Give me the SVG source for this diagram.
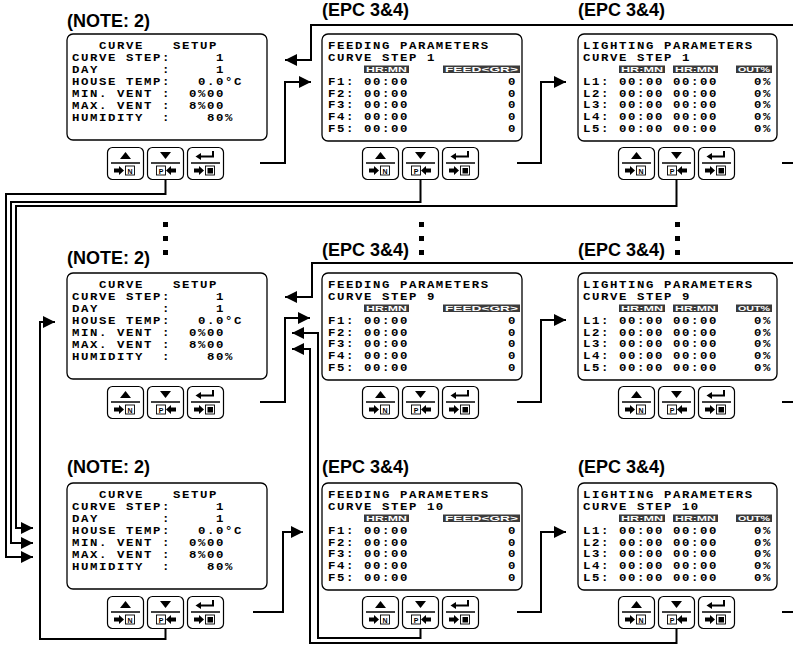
<svg xmlns="http://www.w3.org/2000/svg" width="793" height="645" viewBox="0 0 793 645">
<style>
.box{fill:#fff;stroke:#000;stroke-width:1.3}
.lbl{font-family:"Liberation Sans",Arial,sans-serif;font-weight:bold;font-size:18px;fill:#000}
.m{font-family:"Liberation Mono","Courier New",monospace;font-weight:bold;font-size:10.3px;letter-spacing:1.32px;fill:#000}
.hd{fill:#3a3a3a}
.ht{font-family:"Liberation Sans",Arial,sans-serif;font-weight:bold;font-size:8px;fill:#fff;text-anchor:middle}
.c{fill:none;stroke:#000;stroke-width:2}
.a{marker-end:url(#ah)}
.bf{fill:#fff;stroke:#000;stroke-width:1.2}
.bd{stroke:#000;stroke-width:1.5}
.bx{fill:#fff;stroke:#000;stroke-width:0.9}
.bt{font-family:"Liberation Sans",Arial,sans-serif;font-weight:bold;font-size:7px;text-anchor:middle;fill:#000}
.dot{fill:#000}
</style>
<defs>
<marker id="ah" markerUnits="userSpaceOnUse" markerWidth="12" markerHeight="12" refX="12" refY="6" orient="auto"><path d="M0,0 L12,6 L0,12 Z" fill="#000"/></marker>
<g id="b1">
<rect class="bf" x="0.5" y="0.5" width="36" height="32" rx="5"/>
<line class="bd" x1="4" y1="16" x2="33" y2="16"/>
<path d="M13,12 L18.5,5 L24,12 Z"/>
<path d="M7,21.5 H12 V19 L17,23.5 L12,28 V25.5 H7 Z"/>
<rect class="bx" x="18.5" y="19" width="9" height="9"/>
<text class="bt" x="23" y="26.5">N</text>
</g>
<g id="b2">
<rect class="bf" x="0.5" y="0.5" width="36" height="32" rx="5"/>
<line class="bd" x1="4" y1="16" x2="33" y2="16"/>
<path d="M13,5 L24,5 L18.5,12 Z"/>
<rect class="bx" x="9.5" y="19" width="9" height="9"/>
<text class="bt" x="14" y="26.5">P</text>
<path d="M29,21.5 H24 V19 L19,23.5 L24,28 V25.5 H29 Z"/>
</g>
<g id="b3">
<rect class="bf" x="0.5" y="0.5" width="36" height="32" rx="5"/>
<line class="bd" x1="4" y1="16" x2="33" y2="16"/>
<path d="M26,4 V9.5 H13" fill="none" stroke="#000" stroke-width="2"/>
<path d="M8.5,9.5 L14,6 L14,13 Z"/>
<path d="M7,21.5 H12 V19 L17,23.5 L12,28 V25.5 H7 Z"/>
<rect class="bx" x="18.5" y="19" width="9" height="9"/>
<rect x="20.5" y="21" width="5.5" height="5.5" fill="#000"/>
</g>
</defs>
<rect width="793" height="645" fill="#fff"/>

<g id="connectors">
<path class="c a" d="M260,163 H285 V82 H311"/>
<path class="c a" d="M793,25 H311 V60 H285"/>
<path class="c a" d="M517,163 H541 V82 H566"/>
<path class="c" d="M782,163 H793"/>
<path class="c a" d="M165.5,180 V194 H6 V557 H33"/>
<path class="c a" d="M420.5,180 V202 H11 V543 H33"/>
<path class="c a" d="M676.5,180 V206 H16 V528 H33"/>
<path class="c a" d="M260,402 H285 V318 H310"/>
<path class="c a" d="M793,263 H312 V297 H285"/>
<path class="c a" d="M517,402 H541 V320 H566"/>
<path class="c" d="M782,402 H793"/>
<path class="c a" d="M165.5,629 V639 H40 V322 H55"/>
<path class="c a" d="M420.5,629 V638 H318 V333 H292"/>
<path class="c a" d="M676.5,629 V643 H310 V349 H292"/>
<path class="c a" d="M253,612 H283 V532 H303"/>
<path class="c a" d="M517,612 H541 V532 H566"/>
<path class="c" d="M782,612 H793"/>
</g>

<g id="ellipses">
<rect class="dot" x="163" y="222" width="5" height="5"/><rect class="dot" x="163" y="236" width="5" height="5"/><rect class="dot" x="163" y="250" width="5" height="5"/>
<rect class="dot" x="419" y="222" width="5" height="5"/><rect class="dot" x="419" y="236" width="5" height="5"/><rect class="dot" x="419" y="250" width="5" height="5"/>
<rect class="dot" x="675" y="222" width="5" height="5"/><rect class="dot" x="675" y="236" width="5" height="5"/><rect class="dot" x="675" y="250" width="5" height="5"/>
</g>

<!-- Row 1 -->
<g id="setup1" transform="translate(67,34)">
<text class="lbl" x="0" y="-7.5">(NOTE: 2)</text>
<rect class="box" x="0" y="0" width="200" height="106" rx="6"/>
<g transform="scale(1.2,1)">
<text class="m" y="15"><tspan x="26.67">CURVE</tspan><tspan x="88.33">SETUP</tspan></text>
<text class="m" y="27"><tspan x="4.17">CURVE STEP:</tspan><tspan x="124.17">1</tspan></text>
<text class="m" y="39"><tspan x="4.17">DAY</tspan><tspan x="79.17">:</tspan><tspan x="124.17">1</tspan></text>
<text class="m" y="51"><tspan x="4.17">HOUSE TEMP:</tspan><tspan x="109.17">0.0°C</tspan></text>
<text class="m" y="63"><tspan x="4.17">MIN. VENT</tspan><tspan x="79.17">:</tspan><tspan x="101.67">0%00</tspan></text>
<text class="m" y="75"><tspan x="4.17">MAX. VENT</tspan><tspan x="79.17">:</tspan><tspan x="101.67">8%00</tspan></text>
<text class="m" y="87"><tspan x="4.17">HUMIDITY</tspan><tspan x="79.17">:</tspan><tspan x="116.67">80%</tspan></text>
</g>
<use href="#b1" x="40" y="113"/><use href="#b2" x="80" y="113"/><use href="#b3" x="120" y="113"/>
</g>

<g id="feed1" transform="translate(322,34)">
<text class="lbl" x="0" y="-18">(EPC 3&amp;4)</text>
<rect class="box" x="0" y="0" width="200" height="107" rx="6"/>
<rect class="hd" x="42" y="31.5" width="45" height="7.5"/><text class="ht" x="64.5" y="38" textLength="41" lengthAdjust="spacingAndGlyphs">HR:MN</text>
<rect class="hd" x="121" y="31.5" width="77" height="7.5"/><text class="ht" x="159.5" y="38" textLength="73" lengthAdjust="spacingAndGlyphs">FEED&lt;GR&gt;</text>
<g transform="scale(1.2,1)">
<text class="m" x="5" y="15.5">FEEDING PARAMETERS</text>
<text class="m" x="5" y="27.5">CURVE STEP 1</text>
<text class="m" y="51"><tspan x="5">F1:</tspan><tspan x="35">00:00</tspan><tspan x="155">0</tspan></text>
<text class="m" y="62.7"><tspan x="5">F2:</tspan><tspan x="35">00:00</tspan><tspan x="155">0</tspan></text>
<text class="m" y="74.4"><tspan x="5">F3:</tspan><tspan x="35">00:00</tspan><tspan x="155">0</tspan></text>
<text class="m" y="86.1"><tspan x="5">F4:</tspan><tspan x="35">00:00</tspan><tspan x="155">0</tspan></text>
<text class="m" y="97.8"><tspan x="5">F5:</tspan><tspan x="35">00:00</tspan><tspan x="155">0</tspan></text>
</g>
<use href="#b1" x="40" y="113"/><use href="#b2" x="80" y="113"/><use href="#b3" x="120" y="113"/>
</g>

<g id="light1" transform="translate(578,34)">
<text class="lbl" x="0" y="-18">(EPC 3&amp;4)</text>
<rect class="box" x="0" y="0" width="199" height="107" rx="6"/>
<rect class="hd" x="41" y="31.5" width="46" height="7.5"/><text class="ht" x="64" y="38" textLength="42" lengthAdjust="spacingAndGlyphs">HR:MN</text>
<rect class="hd" x="95" y="31.5" width="45" height="7.5"/><text class="ht" x="117.5" y="38" textLength="41" lengthAdjust="spacingAndGlyphs">HR:MN</text>
<rect class="hd" x="158" y="31.5" width="36" height="7.5"/><text class="ht" x="176" y="38" textLength="32" lengthAdjust="spacingAndGlyphs">OUT%</text>
<g transform="scale(1.2,1)">
<text class="m" x="4.17" y="15.5">LIGHTING PARAMETERS</text>
<text class="m" x="4.17" y="27.5">CURVE STEP 1</text>
<text class="m" y="51"><tspan x="4.17">L1:</tspan><tspan x="34.17">00:00</tspan><tspan x="79.17">00:00</tspan><tspan x="146.67">0%</tspan></text>
<text class="m" y="62.7"><tspan x="4.17">L2:</tspan><tspan x="34.17">00:00</tspan><tspan x="79.17">00:00</tspan><tspan x="146.67">0%</tspan></text>
<text class="m" y="74.4"><tspan x="4.17">L3:</tspan><tspan x="34.17">00:00</tspan><tspan x="79.17">00:00</tspan><tspan x="146.67">0%</tspan></text>
<text class="m" y="86.1"><tspan x="4.17">L4:</tspan><tspan x="34.17">00:00</tspan><tspan x="79.17">00:00</tspan><tspan x="146.67">0%</tspan></text>
<text class="m" y="97.8"><tspan x="4.17">L5:</tspan><tspan x="34.17">00:00</tspan><tspan x="79.17">00:00</tspan><tspan x="146.67">0%</tspan></text>
</g>
<use href="#b1" x="40" y="113"/><use href="#b2" x="80" y="113"/><use href="#b3" x="120" y="113"/>
</g>

<!-- Row 2 -->
<g id="setup2" transform="translate(67,273)">
<text class="lbl" x="0" y="-9.5">(NOTE: 2)</text>
<rect class="box" x="0" y="0" width="200" height="106" rx="6"/>
<g transform="scale(1.2,1)">
<text class="m" y="15"><tspan x="26.67">CURVE</tspan><tspan x="88.33">SETUP</tspan></text>
<text class="m" y="27"><tspan x="4.17">CURVE STEP:</tspan><tspan x="124.17">1</tspan></text>
<text class="m" y="39"><tspan x="4.17">DAY</tspan><tspan x="79.17">:</tspan><tspan x="124.17">1</tspan></text>
<text class="m" y="51"><tspan x="4.17">HOUSE TEMP:</tspan><tspan x="109.17">0.0°C</tspan></text>
<text class="m" y="63"><tspan x="4.17">MIN. VENT</tspan><tspan x="79.17">:</tspan><tspan x="101.67">0%00</tspan></text>
<text class="m" y="75"><tspan x="4.17">MAX. VENT</tspan><tspan x="79.17">:</tspan><tspan x="101.67">8%00</tspan></text>
<text class="m" y="87"><tspan x="4.17">HUMIDITY</tspan><tspan x="79.17">:</tspan><tspan x="116.67">80%</tspan></text>
</g>
<use href="#b1" x="40" y="113"/><use href="#b2" x="80" y="113"/><use href="#b3" x="120" y="113"/>
</g>

<g id="feed9" transform="translate(322,273)">
<text class="lbl" x="0" y="-17">(EPC 3&amp;4)</text>
<rect class="box" x="0" y="0" width="200" height="107" rx="6"/>
<rect class="hd" x="42" y="31.5" width="45" height="7.5"/><text class="ht" x="64.5" y="38" textLength="41" lengthAdjust="spacingAndGlyphs">HR:MN</text>
<rect class="hd" x="121" y="31.5" width="77" height="7.5"/><text class="ht" x="159.5" y="38" textLength="73" lengthAdjust="spacingAndGlyphs">FEED&lt;GR&gt;</text>
<g transform="scale(1.2,1)">
<text class="m" x="5" y="15.5">FEEDING PARAMETERS</text>
<text class="m" x="5" y="27.5">CURVE STEP 9</text>
<text class="m" y="51"><tspan x="5">F1:</tspan><tspan x="35">00:00</tspan><tspan x="155">0</tspan></text>
<text class="m" y="62.7"><tspan x="5">F2:</tspan><tspan x="35">00:00</tspan><tspan x="155">0</tspan></text>
<text class="m" y="74.4"><tspan x="5">F3:</tspan><tspan x="35">00:00</tspan><tspan x="155">0</tspan></text>
<text class="m" y="86.1"><tspan x="5">F4:</tspan><tspan x="35">00:00</tspan><tspan x="155">0</tspan></text>
<text class="m" y="97.8"><tspan x="5">F5:</tspan><tspan x="35">00:00</tspan><tspan x="155">0</tspan></text>
</g>
<use href="#b1" x="40" y="113"/><use href="#b2" x="80" y="113"/><use href="#b3" x="120" y="113"/>
</g>

<g id="light9" transform="translate(578,273)">
<text class="lbl" x="0" y="-17">(EPC 3&amp;4)</text>
<rect class="box" x="0" y="0" width="199" height="107" rx="6"/>
<rect class="hd" x="41" y="31.5" width="46" height="7.5"/><text class="ht" x="64" y="38" textLength="42" lengthAdjust="spacingAndGlyphs">HR:MN</text>
<rect class="hd" x="95" y="31.5" width="45" height="7.5"/><text class="ht" x="117.5" y="38" textLength="41" lengthAdjust="spacingAndGlyphs">HR:MN</text>
<rect class="hd" x="158" y="31.5" width="36" height="7.5"/><text class="ht" x="176" y="38" textLength="32" lengthAdjust="spacingAndGlyphs">OUT%</text>
<g transform="scale(1.2,1)">
<text class="m" x="4.17" y="15.5">LIGHTING PARAMETERS</text>
<text class="m" x="4.17" y="27.5">CURVE STEP 9</text>
<text class="m" y="51"><tspan x="4.17">L1:</tspan><tspan x="34.17">00:00</tspan><tspan x="79.17">00:00</tspan><tspan x="146.67">0%</tspan></text>
<text class="m" y="62.7"><tspan x="4.17">L2:</tspan><tspan x="34.17">00:00</tspan><tspan x="79.17">00:00</tspan><tspan x="146.67">0%</tspan></text>
<text class="m" y="74.4"><tspan x="4.17">L3:</tspan><tspan x="34.17">00:00</tspan><tspan x="79.17">00:00</tspan><tspan x="146.67">0%</tspan></text>
<text class="m" y="86.1"><tspan x="4.17">L4:</tspan><tspan x="34.17">00:00</tspan><tspan x="79.17">00:00</tspan><tspan x="146.67">0%</tspan></text>
<text class="m" y="97.8"><tspan x="4.17">L5:</tspan><tspan x="34.17">00:00</tspan><tspan x="79.17">00:00</tspan><tspan x="146.67">0%</tspan></text>
</g>
<use href="#b1" x="40" y="113"/><use href="#b2" x="80" y="113"/><use href="#b3" x="120" y="113"/>
</g>

<!-- Row 3 -->
<g id="setup3" transform="translate(67,483)">
<text class="lbl" x="0" y="-10">(NOTE: 2)</text>
<rect class="box" x="0" y="0" width="200" height="106" rx="6"/>
<g transform="scale(1.2,1)">
<text class="m" y="15"><tspan x="26.67">CURVE</tspan><tspan x="88.33">SETUP</tspan></text>
<text class="m" y="27"><tspan x="4.17">CURVE STEP:</tspan><tspan x="124.17">1</tspan></text>
<text class="m" y="39"><tspan x="4.17">DAY</tspan><tspan x="79.17">:</tspan><tspan x="124.17">1</tspan></text>
<text class="m" y="51"><tspan x="4.17">HOUSE TEMP:</tspan><tspan x="109.17">0.0°C</tspan></text>
<text class="m" y="63"><tspan x="4.17">MIN. VENT</tspan><tspan x="79.17">:</tspan><tspan x="101.67">0%00</tspan></text>
<text class="m" y="75"><tspan x="4.17">MAX. VENT</tspan><tspan x="79.17">:</tspan><tspan x="101.67">8%00</tspan></text>
<text class="m" y="87"><tspan x="4.17">HUMIDITY</tspan><tspan x="79.17">:</tspan><tspan x="116.67">80%</tspan></text>
</g>
<use href="#b1" x="40" y="113"/><use href="#b2" x="80" y="113"/><use href="#b3" x="120" y="113"/>
</g>

<g id="feed10" transform="translate(322,483)">
<text class="lbl" x="0" y="-10.5">(EPC 3&amp;4)</text>
<rect class="box" x="0" y="0" width="200" height="107" rx="6"/>
<rect class="hd" x="42" y="31.5" width="45" height="7.5"/><text class="ht" x="64.5" y="38" textLength="41" lengthAdjust="spacingAndGlyphs">HR:MN</text>
<rect class="hd" x="121" y="31.5" width="77" height="7.5"/><text class="ht" x="159.5" y="38" textLength="73" lengthAdjust="spacingAndGlyphs">FEED&lt;GR&gt;</text>
<g transform="scale(1.2,1)">
<text class="m" x="5" y="15.5">FEEDING PARAMETERS</text>
<text class="m" x="5" y="27.5">CURVE STEP 10</text>
<text class="m" y="51"><tspan x="5">F1:</tspan><tspan x="35">00:00</tspan><tspan x="155">0</tspan></text>
<text class="m" y="62.7"><tspan x="5">F2:</tspan><tspan x="35">00:00</tspan><tspan x="155">0</tspan></text>
<text class="m" y="74.4"><tspan x="5">F3:</tspan><tspan x="35">00:00</tspan><tspan x="155">0</tspan></text>
<text class="m" y="86.1"><tspan x="5">F4:</tspan><tspan x="35">00:00</tspan><tspan x="155">0</tspan></text>
<text class="m" y="97.8"><tspan x="5">F5:</tspan><tspan x="35">00:00</tspan><tspan x="155">0</tspan></text>
</g>
<use href="#b1" x="40" y="113"/><use href="#b2" x="80" y="113"/><use href="#b3" x="120" y="113"/>
</g>

<g id="light10" transform="translate(578,483)">
<text class="lbl" x="0" y="-10.5">(EPC 3&amp;4)</text>
<rect class="box" x="0" y="0" width="199" height="107" rx="6"/>
<rect class="hd" x="41" y="31.5" width="46" height="7.5"/><text class="ht" x="64" y="38" textLength="42" lengthAdjust="spacingAndGlyphs">HR:MN</text>
<rect class="hd" x="95" y="31.5" width="45" height="7.5"/><text class="ht" x="117.5" y="38" textLength="41" lengthAdjust="spacingAndGlyphs">HR:MN</text>
<rect class="hd" x="158" y="31.5" width="36" height="7.5"/><text class="ht" x="176" y="38" textLength="32" lengthAdjust="spacingAndGlyphs">OUT%</text>
<g transform="scale(1.2,1)">
<text class="m" x="4.17" y="15.5">LIGHTING PARAMETERS</text>
<text class="m" x="4.17" y="27.5">CURVE STEP 10</text>
<text class="m" y="51"><tspan x="4.17">L1:</tspan><tspan x="34.17">00:00</tspan><tspan x="79.17">00:00</tspan><tspan x="146.67">0%</tspan></text>
<text class="m" y="62.7"><tspan x="4.17">L2:</tspan><tspan x="34.17">00:00</tspan><tspan x="79.17">00:00</tspan><tspan x="146.67">0%</tspan></text>
<text class="m" y="74.4"><tspan x="4.17">L3:</tspan><tspan x="34.17">00:00</tspan><tspan x="79.17">00:00</tspan><tspan x="146.67">0%</tspan></text>
<text class="m" y="86.1"><tspan x="4.17">L4:</tspan><tspan x="34.17">00:00</tspan><tspan x="79.17">00:00</tspan><tspan x="146.67">0%</tspan></text>
<text class="m" y="97.8"><tspan x="4.17">L5:</tspan><tspan x="34.17">00:00</tspan><tspan x="79.17">00:00</tspan><tspan x="146.67">0%</tspan></text>
</g>
<use href="#b1" x="40" y="113"/><use href="#b2" x="80" y="113"/><use href="#b3" x="120" y="113"/>
</g>
</svg>
